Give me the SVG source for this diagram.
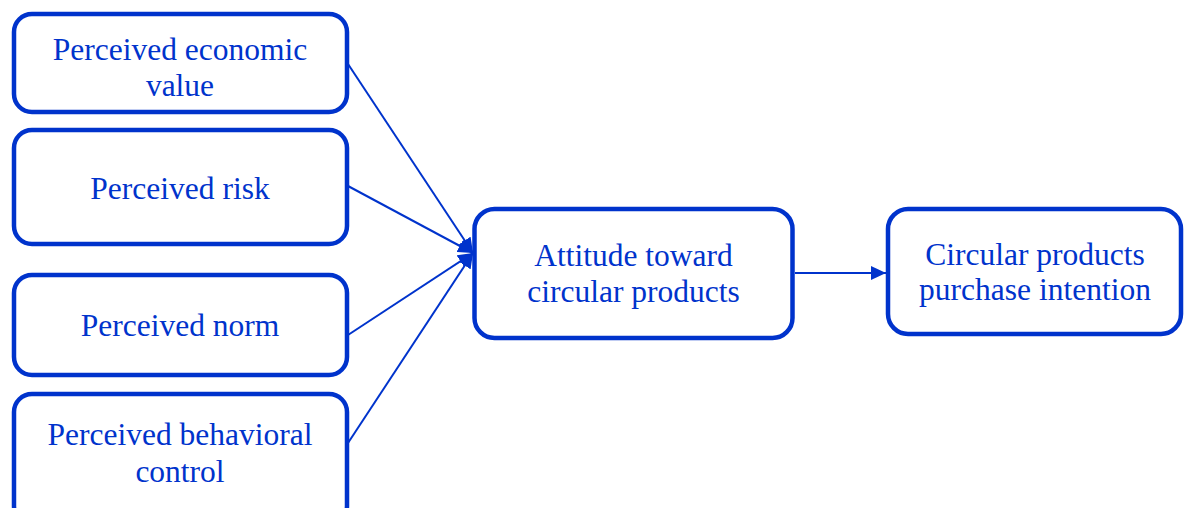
<svg xmlns="http://www.w3.org/2000/svg" width="1184" height="508" viewBox="0 0 1184 508">
<style>
.box{fill:#fff;stroke:#0033cc;stroke-width:4.5}
.t{font-family:"Liberation Serif","Times New Roman",serif;font-size:31.5px;fill:#0033cc;text-anchor:middle}
.c{stroke:#0033cc;stroke-width:2;fill:none}
</style>
<defs>
<marker id="ah" viewBox="0 0 15 14" refX="15" refY="7" markerWidth="15" markerHeight="14" markerUnits="userSpaceOnUse" orient="auto">
<path d="M0,0 L15,7 L0,14 z" fill="#0033cc"/>
</marker>
</defs>
<rect width="1184" height="508" fill="#fff"/>
<g id="connectors">
<line class="c" x1="348" y1="64" x2="473" y2="253" marker-end="url(#ah)"/>
<line class="c" x1="348" y1="186" x2="473" y2="253" marker-end="url(#ah)"/>
<line class="c" x1="348" y1="335" x2="473" y2="253" marker-end="url(#ah)"/>
<line class="c" x1="348" y1="443" x2="473" y2="253" marker-end="url(#ah)"/>
<line class="c" x1="795" y1="273" x2="886" y2="273" marker-end="url(#ah)"/>
</g>
<g id="n1">
<rect class="box" x="14" y="14" width="333" height="98" rx="18"/>
<text class="t" x="180" y="60">Perceived economic</text>
<text class="t" x="180" y="96">value</text>
</g>
<g id="n2">
<rect class="box" x="14" y="130" width="333" height="114" rx="18"/>
<text class="t" x="180" y="199">Perceived risk</text>
</g>
<g id="n3">
<rect class="box" x="14" y="275" width="333" height="100" rx="18"/>
<text class="t" x="180" y="336">Perceived norm</text>
</g>
<g id="n4">
<rect class="box" x="14" y="394" width="333" height="130" rx="18"/>
<text class="t" x="180" y="445">Perceived behavioral</text>
<text class="t" x="180" y="482">control</text>
</g>
<g id="n5">
<rect class="box" x="474.5" y="209" width="318" height="129" rx="20"/>
<text class="t" x="633.5" y="266">Attitude toward</text>
<text class="t" x="633.5" y="302">circular products</text>
</g>
<g id="n6">
<rect class="box" x="888" y="209" width="293" height="125" rx="20"/>
<text class="t" x="1035" y="265">Circular products</text>
<text class="t" x="1035" y="300">purchase intention</text>
</g>
</svg>
